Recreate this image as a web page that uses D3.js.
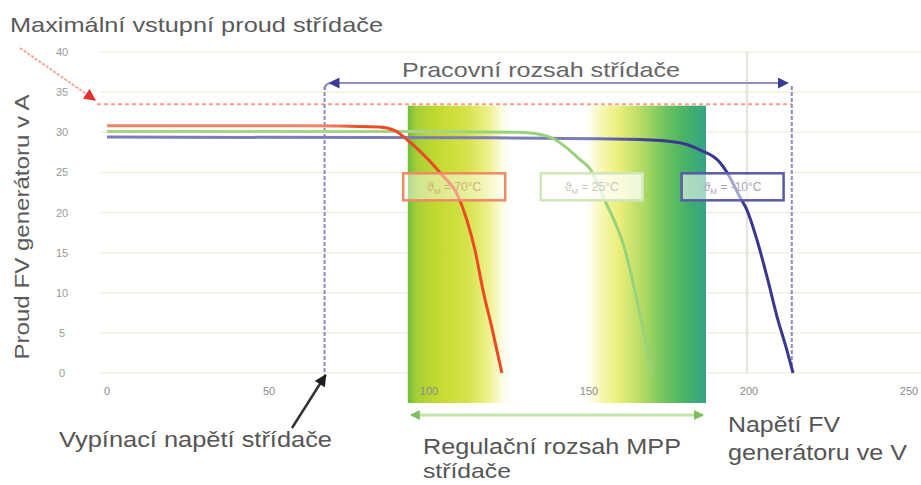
<!DOCTYPE html>
<html><head><meta charset="utf-8">
<script src="https://cdn.jsdelivr.net/npm/d3@7/dist/d3.min.js"></script>
<style>body{margin:0;background:#fff}svg{display:block}</style>
</head><body>
<svg id="c" width="921" height="485"></svg>
<script>
// ---------- data ----------
const yTicks = [0, 5, 10, 15, 20, 25, 30, 35, 40];
const xTicks = [0, 50, 100, 150, 200, 250];
const vGridTicks = [200];
const seriesTemps = ["70°C", "25°C", "-10°C"];

const redV   = [0, 60, 85, 90, 94, 98.4, 104, 110.3, 112.5, 115, 117.5, 120.3, 123.4];
const redI   = [30.8, 30.8, 30.65, 30.2, 29.0, 27.4, 25.0, 21.5, 19.0, 15.3, 10.3, 5.6, 0];
const greenV = [0, 100, 129, 138.4, 147.8, 151, 155.6, 161.9, 165.6, 170.3];
const greenI = [30.1, 30.1, 30.0, 29.4, 26.6, 25.4, 21.5, 15.3, 9.1, 0];
const blueV  = [0, 120, 166.6, 179, 185.3, 191.6, 193.75, 197.8, 200, 203.1, 206.25, 209.4, 212.5, 214.4];
const blueI  = [29.4, 29.3, 29.1, 28.7, 27.8, 26.2, 25.0, 21.9, 20.3, 16.6, 12.0, 7.0, 2.8, 0];

const maxInputCurrent = 33.5;   // A
const cutoffVoltage = 68;       // V
const maxInputVoltage = 214;    // V
const mppMin = 94, mppMax = 187.2; // V
const labelV = [108.5, 151.5, 195.5];
const labelI = 23.2;

// ---------- setup ----------
const svg = d3.select("#c");
const x = d3.scaleLinear().domain([0, 250]).range([107, 907]);
const y = d3.scaleLinear().domain([0, 40]).range([373, 52]);
const narrow = "'Liberation Sans Narrow','Arial Narrow','Liberation Sans',Arial,sans-serif";
const textCol = "#555";

const defs = svg.append("defs");
function marker(id, color, w, h) {
  defs.append("marker").attr("id", id).attr("markerUnits", "userSpaceOnUse")
    .attr("viewBox", "0 0 10 10").attr("refX", 9).attr("refY", 5)
    .attr("markerWidth", w).attr("markerHeight", h).attr("orient", "auto-start-reverse")
    .append("path").attr("d", "M0,0 L10,5 L0,10 Z").attr("fill", color);
}
marker("mBlue", "#3a3a98", 11, 11);
marker("mGreen", "#7cc05c", 10, 11);
marker("mBlack", "#1e1e1e", 13, 12);
marker("mRed", "#e83030", 12, 12);

// band gradient
const bg = defs.append("linearGradient").attr("id", "band").attr("x1", 0).attr("x2", 1).attr("y1", 0).attr("y2", 0);
[[0, "#6cbe3c"], [0.03, "#a6cf36"], [0.1, "#c4da30"], [0.2, "#d6e24a"], [0.27, "#eef08c"],
 [0.32, "#fdfde8"], [0.35, "#ffffff"], [0.6, "#ffffff"], [0.65, "#f9f6b0"], [0.71, "#eaee78"],
 [0.79, "#b0da64"], [0.87, "#68c25c"], [0.94, "#44b06a"], [1, "#34a488"]]
  .forEach(([o, c]) => bg.append("stop").attr("offset", o).attr("stop-color", c));

// line gradients
function lineGrad(id, endV, c0, c1, start) {
  const g = defs.append("linearGradient").attr("id", id).attr("gradientUnits", "userSpaceOnUse")
    .attr("x1", x(0)).attr("x2", x(endV)).attr("y1", 0).attr("y2", 0);
  g.append("stop").attr("offset", 0).attr("stop-color", c0);
  g.append("stop").attr("offset", start).attr("stop-color", c0);
  g.append("stop").attr("offset", start + 0.1).attr("stop-color", c1);
  g.append("stop").attr("offset", 1).attr("stop-color", c1);
}
lineGrad("gRed", 123.4, "#ee8466", "#ec4a26", 0.55);
lineGrad("gGreen", 170.3, "#a9d488", "#98d27a", 0.6);
lineGrad("gBlue", 214.4, "#7c7cb8", "#38388e", 0.7);

// ---------- grid ----------
svg.append("g").selectAll("line").data(yTicks).join("line")
  .attr("x1", 100).attr("x2", 921).attr("y1", d => y(d)).attr("y2", d => y(d))
  .attr("stroke", "#f0f0e2").attr("stroke-width", 1.5);
svg.append("g").selectAll("line").data(vGridTicks).join("line")
  .attr("x1", d => x(d)).attr("x2", d => x(d)).attr("y1", y(40)).attr("y2", y(0))
  .attr("stroke", "#e6e6de").attr("stroke-width", 2.5);

// ---------- MPP band ----------
svg.append("rect").attr("x", x(mppMin)).attr("width", x(mppMax) - x(mppMin))
  .attr("y", y(maxInputCurrent) + 1.5).attr("height", y(0) + 30 - y(maxInputCurrent) - 1.5)
  .attr("fill", "url(#band)");

// ---------- tick labels ----------
svg.append("g").selectAll("text").data(yTicks).join("text")
  .attr("x", 62).attr("y", d => y(d) + 4).attr("text-anchor", "middle")
  .attr("font-family", "Liberation Sans, Arial, sans-serif").attr("font-size", 11).attr("fill", "#9a9a9a")
  .text(d => d);
svg.append("g").selectAll("text").data(xTicks).join("text")
  .attr("x", d => x(d) + (d === 0 ? 0 : 2)).attr("y", 395).attr("text-anchor", "middle")
  .attr("font-family", "Liberation Sans, Arial, sans-serif").attr("font-size", 11).attr("fill", "#8a8a8a")
  .text(d => d);

// ---------- max current dashed line ----------
svg.append("line").attr("x1", 97).attr("x2", x(maxInputVoltage))
  .attr("y1", y(maxInputCurrent)).attr("y2", y(maxInputCurrent))
  .attr("stroke", "#f4a184").attr("stroke-width", 2).attr("stroke-dasharray", "4,3");

// ---------- operating range dashed verticals ----------
[cutoffVoltage, maxInputVoltage].forEach(v => {
  svg.append("line").attr("x1", x(v)).attr("x2", x(v)).attr("y1", 86).attr("y2", y(0) - (v === cutoffVoltage ? 0 : 3))
    .attr("stroke", "#8a8abf").attr("stroke-width", 2).attr("stroke-dasharray", "4,2");
});
svg.append("path")
  .attr("d", `M${x(cutoffVoltage)},90 Q${x(cutoffVoltage)},83 ${x(cutoffVoltage) + 7},83`)
  .attr("fill", "none").attr("stroke", "#8a8abf").attr("stroke-width", 2);
svg.append("line").attr("x1", x(cutoffVoltage) + 5).attr("x2", x(maxInputVoltage) - 4)
  .attr("y1", 83).attr("y2", 83).attr("stroke", "#9090c0").attr("stroke-width", 2)
  .attr("marker-start", "url(#mBlue)").attr("marker-end", "url(#mBlue)");

// ---------- curves ----------
const line = d3.line().x(d => x(d[0])).y(d => y(d[1])).curve(d3.curveMonotoneX);
const series = [
  { V: blueV, I: blueI, stroke: "url(#gBlue)" },
  { V: greenV, I: greenI, stroke: "url(#gGreen)" },
  { V: redV, I: redI, stroke: "url(#gRed)" }
];
svg.append("g").selectAll("path").data(series).join("path")
  .attr("d", s => line(s.V.map((v, i) => [v, s.I[i]])))
  .attr("fill", "none").attr("stroke", s => s.stroke).attr("stroke-width", 3)
  .attr("stroke-linejoin", "round");

// ---------- temperature boxes ----------
const boxStyles = [
  { stroke: "#f08a64", text: "#d4b070", fill: "rgba(255,255,255,0.45)" },
  { stroke: "#cfe6b8", text: "#c4c8bc", fill: "rgba(255,255,255,0.75)" },
  { stroke: "#5a5aa2", text: "#a4a4b4", fill: "rgba(255,255,255,0.55)" }
];
const boxG = svg.append("g").selectAll("g").data(seriesTemps).join("g")
  .attr("transform", (d, i) => `translate(${x(labelV[i])},${y(labelI)})`);
boxG.append("rect").attr("x", -51).attr("y", -13.5).attr("width", 102).attr("height", 27)
  .attr("fill", (d, i) => boxStyles[i].fill).attr("stroke", (d, i) => boxStyles[i].stroke)
  .attr("stroke-width", 2.5);
const bt = boxG.append("text").attr("x", 0).attr("y", 4).attr("text-anchor", "middle")
  .attr("font-family", "Liberation Sans, Arial, sans-serif").attr("font-size", 12)
  .attr("fill", (d, i) => boxStyles[i].text);
bt.append("tspan").text("ϑ");
bt.append("tspan").attr("font-size", 8).attr("dy", 3).text("M");
bt.append("tspan").attr("dy", -3).text(d => "  =  " + d);

// ---------- arrows ----------
svg.append("line").attr("x1", 20).attr("y1", 48).attr("x2", 95).attr("y2", 100)
  .attr("stroke", "#f2a896").attr("stroke-width", 2).attr("stroke-dasharray", "3,1.5")
  .attr("marker-end", "url(#mRed)");
svg.append("line").attr("x1", 292).attr("y1", 428).attr("x2", x(cutoffVoltage) + 1).attr("y2", y(0) + 2)
  .attr("stroke", "#333").attr("stroke-width", 2.5).attr("marker-end", "url(#mBlack)");
svg.append("line").attr("x1", x(mppMin) + 3).attr("x2", x(mppMax) - 3).attr("y1", 415).attr("y2", 415)
  .attr("stroke", "#c4e2ac").attr("stroke-width", 3)
  .attr("marker-start", "url(#mGreen)").attr("marker-end", "url(#mGreen)");

// ---------- texts ----------
function txt(s, xx, yy, size, len, col) {
  svg.append("text").attr("x", xx).attr("y", yy).attr("font-family", narrow)
    .attr("font-size", size).attr("fill", col || textCol)
    .attr("textLength", len).attr("lengthAdjust", "spacingAndGlyphs").text(s);
}
txt("Maximální vstupní proud střídače", 10, 32, 21, 373, "#5a5a5a");
txt("Pracovní rozsah střídače", 402, 77, 21, 278, "#666");
txt("Vypínací napětí střídače", 59, 447, 22, 273);
txt("Regulační rozsah MPP", 423, 454, 22, 258);
txt("střídače", 423, 478, 21, 88);
txt("Napětí FV", 728, 432, 22, 112);
txt("generátoru ve V", 728, 460, 22, 179);
svg.append("text").attr("transform", "translate(29,227) rotate(-90)").attr("text-anchor", "middle")
  .attr("font-family", narrow).attr("font-size", 20).attr("fill", "#5a5a5a")
  .attr("textLength", 265).attr("lengthAdjust", "spacingAndGlyphs")
  .text("Proud FV generátoru v A");
</script>
</body></html>
